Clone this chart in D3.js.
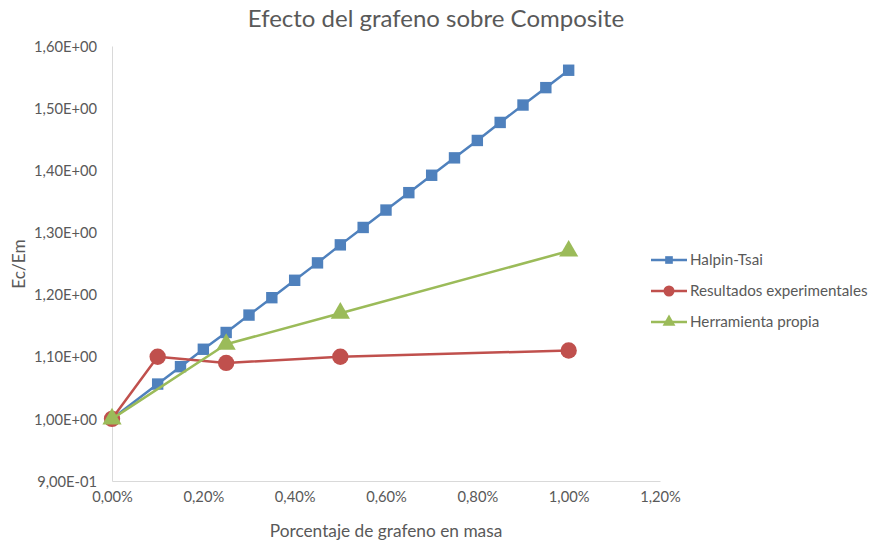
<!DOCTYPE html>
<html>
<head>
<meta charset="utf-8">
<script src="https://cdn.jsdelivr.net/npm/d3@7"></script>
<style>
  html, body { margin: 0; padding: 0; background: #fff; }
  svg text { font-family: Lato, "Open Sans", sans-serif; fill: #595959; }
</style>
</head>
<body>
<svg id="chart" width="875" height="543"></svg>
<script>
// Porcentaje de grafeno en masa (%) y módulo relativo Ec/Em
const halpinX = [0, 0.10, 0.15, 0.20, 0.25, 0.30, 0.35, 0.40, 0.45, 0.50, 0.55, 0.60, 0.65, 0.70, 0.75, 0.80, 0.85, 0.90, 0.95, 1.00];
const halpinY = [1.000, 1.056, 1.084, 1.112, 1.139, 1.167, 1.195, 1.223, 1.251, 1.280, 1.308, 1.336, 1.364, 1.392, 1.420, 1.448, 1.477, 1.505, 1.533, 1.561];

const expX = [0, 0.10, 0.25, 0.50, 1.00];
const expY = [1.000, 1.100, 1.090, 1.100, 1.110];

const propiaX = [0, 0.25, 0.50, 1.00];
const propiaY = [1.000, 1.120, 1.170, 1.270];

const xTicks = [0, 0.2, 0.4, 0.6, 0.8, 1.0, 1.2];
const yTicks = [0.9, 1.0, 1.1, 1.2, 1.3, 1.4, 1.5, 1.6];

const seriesNames = ["Halpin-Tsai", "Resultados experimentales", "Herramienta propia"];
const seriesColors = ["#4F81BD", "#C0504D", "#9BBB59"];
const seriesSymbols = [d3.symbolSquare, d3.symbolCircle, d3.symbolTriangle];
const symbolSizes = [130, 210, 160];

const series = [
  { name: seriesNames[0], x: halpinX, y: halpinY },
  { name: seriesNames[1], x: expX, y: expY },
  { name: seriesNames[2], x: propiaX, y: propiaY }
];

const svg = d3.select("#chart");
const plot = { left: 112, right: 660, top: 46, bottom: 481 };

const x = d3.scaleLinear().domain([0, 1.2]).range([plot.left, plot.right]);
const y = d3.scaleLinear().domain([0.9, 1.6]).range([plot.bottom, plot.top]);

// Etiquetas con coma decimal
const fmtX = v => v.toFixed(2).replace(".", ",") + "%";
const fmtY = v => {
  const exp = Math.floor(Math.log10(v) + 1e-9);
  const m = v / Math.pow(10, exp);
  const sign = exp < 0 ? "-" : "+";
  return m.toFixed(2).replace(".", ",") + "E" + sign + String(Math.abs(exp)).padStart(2, "0");
};

// Título
svg.append("text")
  .attr("x", 436).attr("y", 27)
  .attr("text-anchor", "middle")
  .style("font-size", "24px")
  .text("Efecto del grafeno sobre Composite");

// Ejes
const xAxis = svg.append("g")
  .attr("transform", `translate(0,${plot.bottom})`)
  .call(d3.axisBottom(x).tickValues(xTicks).tickFormat(fmtX).tickSize(0).tickPadding(11));
const yAxis = svg.append("g")
  .attr("transform", `translate(${plot.left},0)`)
  .call(d3.axisLeft(y).tickValues(yTicks).tickFormat(fmtY).tickSize(0).tickPadding(15));

[xAxis, yAxis].forEach(g => {
  g.select(".domain").attr("stroke", "#D9D9D9").attr("stroke-width", 1);
  g.selectAll("text").style("font-size", "14.7px").style("fill", "#595959");
});
yAxis.selectAll("text").attr("dy", "0.35em");
xAxis.selectAll("text").attr("dy", "0.71em");

// Títulos de ejes
svg.append("text")
  .attr("x", 386).attr("y", 537)
  .attr("text-anchor", "middle")
  .style("font-size", "17.3px")
  .text("Porcentaje de grafeno en masa");

svg.append("text")
  .attr("transform", "translate(25,264) rotate(-90)")
  .attr("text-anchor", "middle")
  .style("font-size", "17.3px")
  .text("Ec/Em");

// Series
const line = d3.line();
series.forEach((s, i) => {
  const pts = s.x.map((v, j) => [x(v), y(s.y[j])]);
  const g = svg.append("g");
  g.append("path")
    .attr("d", line(pts))
    .attr("fill", "none")
    .attr("stroke", seriesColors[i])
    .attr("stroke-width", 2.5)
    .attr("stroke-linejoin", "round");
  g.selectAll("path.m")
    .data(pts)
    .enter().append("path")
    .attr("class", "m")
    .attr("transform", d => `translate(${d[0]},${d[1]})`)
    .attr("d", d3.symbol().type(seriesSymbols[i]).size(symbolSizes[i]))
    .attr("fill", seriesColors[i]);
});

// Leyenda
const legend = svg.append("g").attr("transform", "translate(651,260)");
seriesNames.forEach((name, i) => {
  const row = legend.append("g").attr("transform", `translate(0,${i * 31})`);
  row.append("line")
    .attr("x1", 0).attr("x2", 36).attr("y1", 0).attr("y2", 0)
    .attr("stroke", seriesColors[i]).attr("stroke-width", 2.5);
  row.append("path")
    .attr("transform", "translate(18,0)")
    .attr("d", d3.symbol().type(seriesSymbols[i]).size(symbolSizes[i] * 0.45))
    .attr("fill", seriesColors[i]);
  row.append("text")
    .attr("x", 39).attr("y", 0).attr("dy", "0.35em")
    .style("font-size", "15.2px")
    .text(name);
});
</script>
</body>
</html>
